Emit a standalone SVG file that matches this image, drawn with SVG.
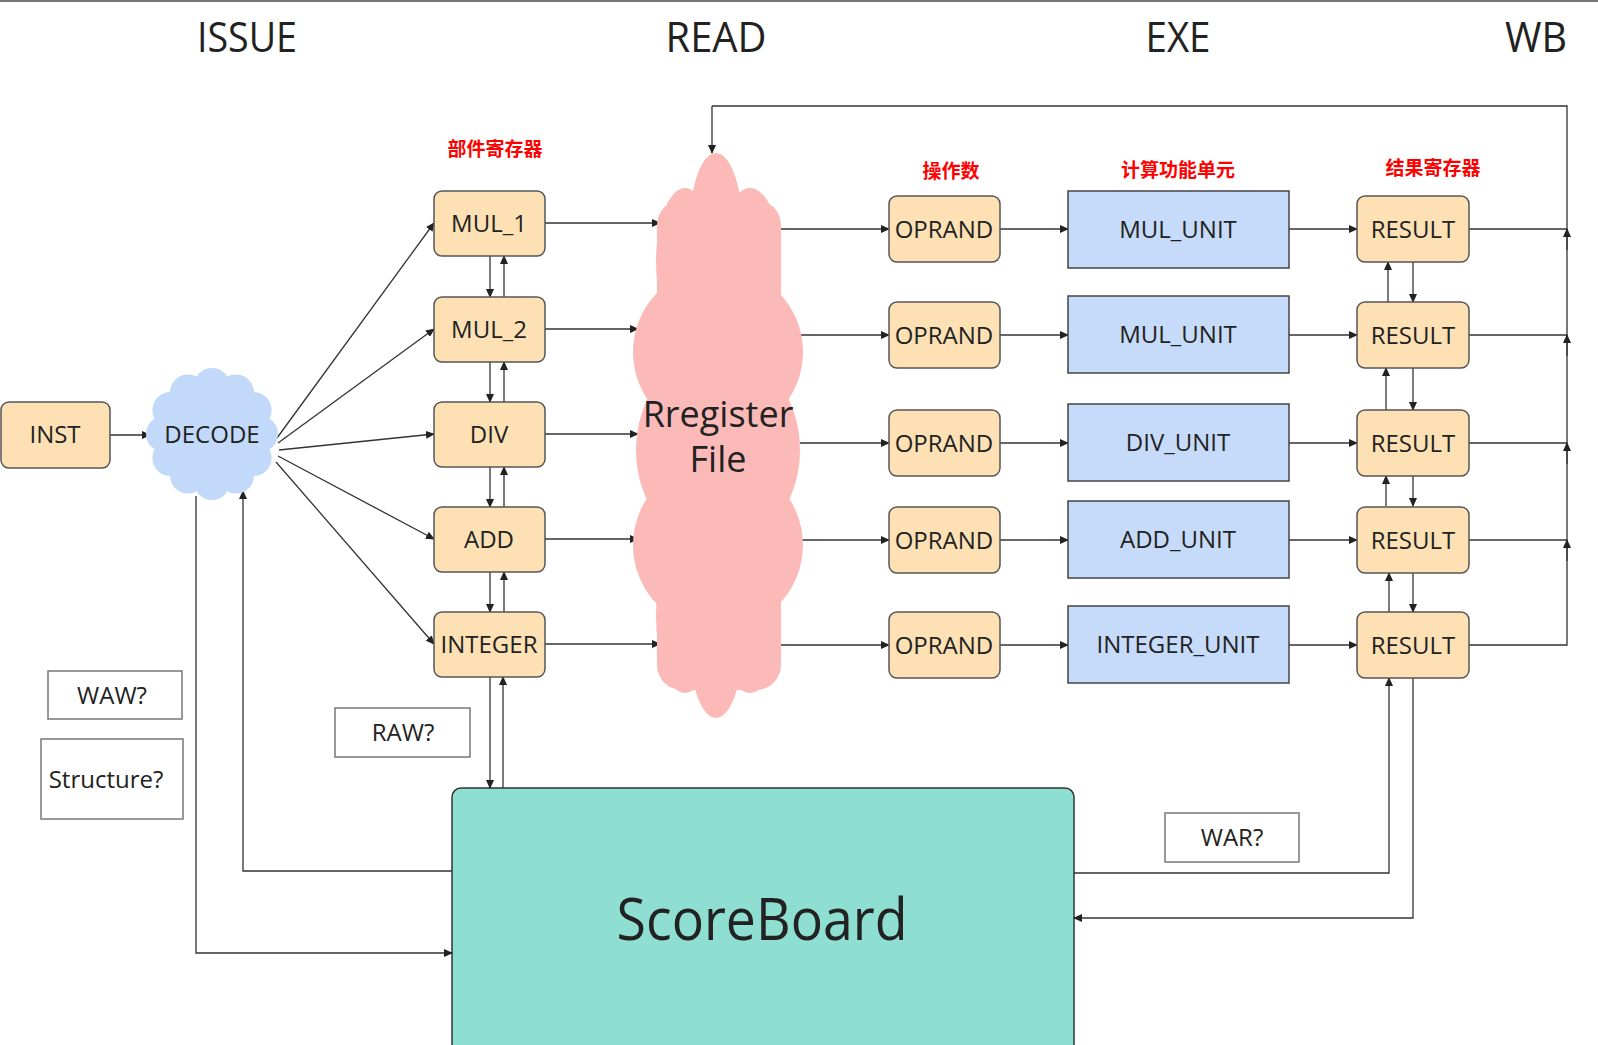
<svg xmlns="http://www.w3.org/2000/svg" width="1598" height="1045" viewBox="0 0 1598 1045">
<style>
.hd{font-family:"Open Sans","Noto Sans",sans-serif;font-size:42px;fill:#222;text-anchor:middle}
.rl{font-family:"Noto Sans CJK SC",sans-serif;font-size:19px;font-weight:bold;fill:#ff0000;text-anchor:middle}
.bx{fill:#fde1b5;stroke:#555;stroke-width:1.5}
.un{fill:#c6daf9;stroke:#444;stroke-width:1.5}
.an{fill:#fff;stroke:#777;stroke-width:1.5}
.t{font-family:"Open Sans","Noto Sans",sans-serif;font-size:24px;fill:#222;text-anchor:middle}
.e{fill:none;stroke:#333;stroke-width:1.3}
.ea{fill:none;stroke:#333;stroke-width:1.3;marker-end:url(#ah)}
</style>
<defs>
<marker id="ah" markerWidth="9" markerHeight="8" refX="8" refY="4" orient="auto" markerUnits="userSpaceOnUse">
<path d="M0,0 L9,4 L0,8 Z" fill="#222"/>
</marker>
</defs>
<rect width="1598" height="1045" fill="#fff"/>
<line x1="0" y1="1" x2="1598" y2="1" stroke="#777" stroke-width="2"/>

<g id="headers">
<text class="hd" x="247" y="52" textLength="100" lengthAdjust="spacingAndGlyphs">ISSUE</text>
<text class="hd" x="716" y="52" textLength="101" lengthAdjust="spacingAndGlyphs">READ</text>
<text class="hd" x="1178" y="52" textLength="65" lengthAdjust="spacingAndGlyphs">EXE</text>
<text class="hd" x="1536" y="52" textLength="62" lengthAdjust="spacingAndGlyphs">WB</text>
</g>
<g id="labels">
<text class="rl" x="495" y="156">部件寄存器</text>
<text class="rl" x="951" y="178">操作数</text>
<text class="rl" x="1178" y="177">计算功能单元</text>
<text class="rl" x="1433" y="175">结果寄存器</text>
</g>

<g id="scoreboard">
<rect x="452" y="788" width="622" height="300" rx="9" fill="#8edfd1" stroke="#333" stroke-width="1.5"/>
<text x="762" y="940" font-family="Open Sans, Noto Sans, sans-serif" font-size="58" fill="#222" text-anchor="middle" textLength="291" lengthAdjust="spacingAndGlyphs">ScoreBoard</text>
</g>

<g id="connectors">
<line class="ea" x1="110" y1="435" x2="150" y2="435"/>
<line class="ea" x1="277" y1="438" x2="434" y2="223"/>
<line class="ea" x1="278" y1="443" x2="434" y2="329"/>
<line class="ea" x1="279" y1="450" x2="434" y2="434"/>
<line class="ea" x1="278" y1="456" x2="434" y2="539"/>
<line class="ea" x1="276" y1="462" x2="434" y2="644"/>
<polyline class="ea" points="196,496 196,953 452,953"/>
<polyline class="ea" points="452,871 243,871 243,491"/>

<line class="ea" x1="545" y1="223" x2="660" y2="223"/>
<line class="ea" x1="545" y1="329" x2="638" y2="329"/>
<line class="ea" x1="545" y1="434" x2="638" y2="434"/>
<line class="ea" x1="545" y1="539" x2="638" y2="539"/>
<line class="ea" x1="545" y1="644" x2="660" y2="644"/>

<line class="ea" x1="490" y1="256" x2="490" y2="297"/>
<line class="ea" x1="504" y1="297" x2="504" y2="256"/>
<line class="ea" x1="490" y1="362" x2="490" y2="402"/>
<line class="ea" x1="504" y1="402" x2="504" y2="362"/>
<line class="ea" x1="490" y1="467" x2="490" y2="507"/>
<line class="ea" x1="504" y1="507" x2="504" y2="467"/>
<line class="ea" x1="490" y1="572" x2="490" y2="612"/>
<line class="ea" x1="504" y1="612" x2="504" y2="572"/>
<line class="ea" x1="490" y1="677" x2="490" y2="788"/>
<line class="ea" x1="503" y1="788" x2="503" y2="677"/>

<line class="ea" x1="778" y1="229" x2="889" y2="229"/>
<line class="ea" x1="801" y1="335" x2="889" y2="335"/>
<line class="ea" x1="800" y1="443" x2="889" y2="443"/>
<line class="ea" x1="801" y1="540" x2="889" y2="540"/>
<line class="ea" x1="775" y1="645" x2="889" y2="645"/>

<line class="ea" x1="1000" y1="229" x2="1068" y2="229"/>
<line class="ea" x1="1000" y1="335" x2="1068" y2="335"/>
<line class="ea" x1="1000" y1="443" x2="1068" y2="443"/>
<line class="ea" x1="1000" y1="540" x2="1068" y2="540"/>
<line class="ea" x1="1000" y1="645" x2="1068" y2="645"/>

<line class="ea" x1="1289" y1="229" x2="1357" y2="229"/>
<line class="ea" x1="1289" y1="335" x2="1357" y2="335"/>
<line class="ea" x1="1289" y1="443" x2="1357" y2="443"/>
<line class="ea" x1="1289" y1="540" x2="1357" y2="540"/>
<line class="ea" x1="1289" y1="645" x2="1357" y2="645"/>

<line class="ea" x1="1413" y1="262" x2="1413" y2="302"/>
<line class="ea" x1="1388" y1="302" x2="1388" y2="262"/>
<line class="ea" x1="1413" y1="368" x2="1413" y2="410"/>
<line class="ea" x1="1386" y1="410" x2="1386" y2="368"/>
<line class="ea" x1="1413" y1="476" x2="1413" y2="506"/>
<line class="ea" x1="1386" y1="506" x2="1386" y2="476"/>
<line class="ea" x1="1413" y1="573" x2="1413" y2="612"/>
<line class="ea" x1="1389" y1="612" x2="1389" y2="573"/>
<polyline class="ea" points="1413,678 1413,918 1074,918"/>
<polyline class="ea" points="1074,873 1389,873 1389,678"/>

<polyline class="e" points="1469,645 1567,645 1567,106 712,106"/>
<line class="ea" x1="712" y1="106" x2="712" y2="153"/>
<line class="e" x1="1469" y1="229" x2="1567" y2="229"/>
<line class="e" x1="1469" y1="335" x2="1567" y2="335"/>
<line class="e" x1="1469" y1="443" x2="1567" y2="443"/>
<line class="e" x1="1469" y1="540" x2="1567" y2="540"/>
<line class="ea" x1="1567" y1="250" x2="1567" y2="229"/>
<line class="ea" x1="1567" y1="356" x2="1567" y2="335"/>
<line class="ea" x1="1567" y1="464" x2="1567" y2="443"/>
<line class="ea" x1="1567" y1="561" x2="1567" y2="540"/>
</g>

<g id="inst">
<rect class="bx" x="1" y="402" width="109" height="66" rx="8"/>
<text class="t" x="55" y="443">INST</text>
</g>

<g id="decode">
<g fill="#c2d9fa">
<circle cx="212" cy="434" r="54"/>
<circle cx="260" cy="434" r="18"/>
<circle cx="253.6" cy="458" r="18"/>
<circle cx="236" cy="475.6" r="18"/>
<circle cx="212" cy="482" r="18"/>
<circle cx="188" cy="475.6" r="18"/>
<circle cx="170.4" cy="458" r="18"/>
<circle cx="164" cy="434" r="18"/>
<circle cx="170.4" cy="410" r="18"/>
<circle cx="188" cy="392.4" r="18"/>
<circle cx="212" cy="386" r="18"/>
<circle cx="236" cy="392.4" r="18"/>
<circle cx="253.6" cy="410" r="18"/>
</g>
<text class="t" x="212" y="443">DECODE</text>
</g>

<g id="mul1"><rect class="bx" x="434" y="191" width="111" height="65" rx="8"/><text class="t" x="489" y="232">MUL_1</text></g>
<g id="mul2"><rect class="bx" x="434" y="297" width="111" height="65" rx="8"/><text class="t" x="489" y="338">MUL_2</text></g>
<g id="div"><rect class="bx" x="434" y="402" width="111" height="65" rx="8"/><text class="t" x="489" y="443">DIV</text></g>
<g id="add"><rect class="bx" x="434" y="507" width="111" height="65" rx="8"/><text class="t" x="489" y="548">ADD</text></g>
<g id="integer"><rect class="bx" x="434" y="612" width="111" height="65" rx="8"/><text class="t" x="489" y="653">INTEGER</text></g>

<g id="regfile">
<g fill="#fbbab8">
<ellipse cx="716" cy="232" rx="27" ry="79"/>
<ellipse cx="685" cy="262" rx="29" ry="74"/>
<ellipse cx="750" cy="262" rx="31" ry="74"/>
<rect x="657" y="200" width="124" height="490" rx="25"/>
<ellipse cx="718" cy="352" rx="85" ry="85"/>
<ellipse cx="718" cy="450" rx="82" ry="100"/>
<ellipse cx="718" cy="545" rx="85" ry="85"/>
<ellipse cx="685" cy="615" rx="29" ry="78"/>
<ellipse cx="750" cy="615" rx="31" ry="78"/>
<ellipse cx="716" cy="640" rx="27" ry="78"/>
</g>
<text x="718" y="427" font-family="Open Sans, Noto Sans, sans-serif" font-size="36" fill="#222" text-anchor="middle">Rregister</text>
<text x="718" y="472" font-family="Open Sans, Noto Sans, sans-serif" font-size="36" fill="#222" text-anchor="middle">File</text>
</g>

<g id="oprand1"><rect class="bx" x="889" y="196" width="111" height="66" rx="8"/><text class="t" x="944" y="238">OPRAND</text></g>
<g id="oprand2"><rect class="bx" x="889" y="302" width="111" height="66" rx="8"/><text class="t" x="944" y="344">OPRAND</text></g>
<g id="oprand3"><rect class="bx" x="889" y="410" width="111" height="66" rx="8"/><text class="t" x="944" y="452">OPRAND</text></g>
<g id="oprand4"><rect class="bx" x="889" y="507" width="111" height="66" rx="8"/><text class="t" x="944" y="549">OPRAND</text></g>
<g id="oprand5"><rect class="bx" x="889" y="612" width="111" height="66" rx="8"/><text class="t" x="944" y="654">OPRAND</text></g>

<g id="unit1"><rect class="un" x="1068" y="191" width="221" height="77"/><text class="t" x="1178" y="238">MUL_UNIT</text></g>
<g id="unit2"><rect class="un" x="1068" y="296" width="221" height="77"/><text class="t" x="1178" y="343">MUL_UNIT</text></g>
<g id="unit3"><rect class="un" x="1068" y="404" width="221" height="77"/><text class="t" x="1178" y="451">DIV_UNIT</text></g>
<g id="unit4"><rect class="un" x="1068" y="501" width="221" height="77"/><text class="t" x="1178" y="548">ADD_UNIT</text></g>
<g id="unit5"><rect class="un" x="1068" y="606" width="221" height="77"/><text class="t" x="1178" y="653">INTEGER_UNIT</text></g>

<g id="result1"><rect class="bx" x="1357" y="196" width="112" height="66" rx="8"/><text class="t" x="1413" y="238">RESULT</text></g>
<g id="result2"><rect class="bx" x="1357" y="302" width="112" height="66" rx="8"/><text class="t" x="1413" y="344">RESULT</text></g>
<g id="result3"><rect class="bx" x="1357" y="410" width="112" height="66" rx="8"/><text class="t" x="1413" y="452">RESULT</text></g>
<g id="result4"><rect class="bx" x="1357" y="507" width="112" height="66" rx="8"/><text class="t" x="1413" y="549">RESULT</text></g>
<g id="result5"><rect class="bx" x="1357" y="612" width="112" height="66" rx="8"/><text class="t" x="1413" y="654">RESULT</text></g>

<g id="waw"><rect class="an" x="48" y="671" width="134" height="48"/><text class="t" x="112" y="704">WAW?</text></g>
<g id="structure"><rect class="an" x="41" y="739" width="142" height="80"/><text class="t" x="106" y="788">Structure?</text></g>
<g id="raw"><rect class="an" x="335" y="708" width="135" height="49"/><text class="t" x="403" y="741">RAW?</text></g>
<g id="war"><rect class="an" x="1165" y="813" width="134" height="49"/><text class="t" x="1232" y="846">WAR?</text></g>
</svg>
